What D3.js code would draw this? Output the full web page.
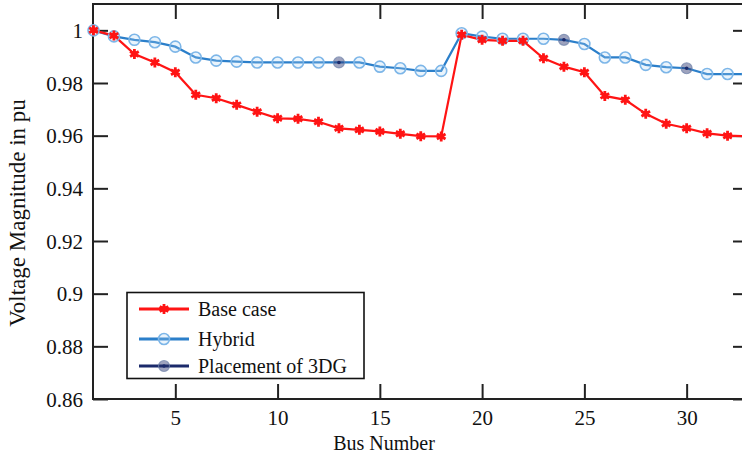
<!DOCTYPE html>
<html><head><meta charset="utf-8">
<script src="https://cdn.jsdelivr.net/npm/d3@7"></script>
<style>
html,body{margin:0;padding:0;background:#fff;}
svg{display:block;}
text{font-family:"Liberation Serif","Times New Roman",serif;fill:#111;}
</style></head>
<body>
<svg id="chart" width="742" height="458"></svg>
<script>
const buses = d3.range(1, 34);
const baseCase = [1.0000,0.9980,0.9910,0.9878,0.9841,0.9755,0.9742,0.9717,0.9691,0.9666,0.9664,0.9653,0.9628,0.9622,0.9616,0.9607,0.9598,0.9597,0.9983,0.9964,0.9960,0.9960,0.9894,0.9862,0.9841,0.9751,0.9736,0.9683,0.9645,0.9628,0.9609,0.9600,0.9597];
const hybrid = [1.0000,0.9977,0.9964,0.9955,0.9938,0.9897,0.9885,0.9881,0.9878,0.9878,0.9878,0.9878,0.9878,0.9878,0.9862,0.9856,0.9846,0.9846,0.9989,0.9976,0.9968,0.9968,0.9968,0.9964,0.9948,0.9897,0.9897,0.9869,0.9860,0.9856,0.9834,0.9834,0.9834];
const dgBuses = [13, 24, 30];
const xTicks = [5, 10, 15, 20, 25, 30];
const yTicks = [0.86, 0.88, 0.9, 0.92, 0.94, 0.96, 0.98, 1];
const legendLabels = ["Base case", "Hybrid", "Placement of 3DG"];

const svg = d3.select("#chart");
const pL = 93, pR = 748, pT = 4, pB = 399;
const x = d3.scaleLinear().domain([1, 33]).range([pL + 0.5, pR]);
const y = d3.scaleLinear().domain([0.86, 1.01]).range([pB, pT]);

const RED = "#ff1414", BLUE = "#2b7fca", NAVY = "#1b2a6b";

// axes
const fmt = d => String(+d.toFixed(2));
const gB = svg.append("g").attr("transform", `translate(0,${pB})`)
  .call(d3.axisBottom(x).tickValues(xTicks).tickSize(-15).tickPadding(11).tickFormat(fmt));
const gT = svg.append("g").attr("transform", `translate(0,${pT})`)
  .call(d3.axisTop(x).tickValues(xTicks).tickSize(-15).tickFormat(""));
const gL = svg.append("g").attr("transform", `translate(${pL},0)`)
  .call(d3.axisLeft(y).tickValues(yTicks).tickSize(-15).tickPadding(10).tickFormat(fmt));
const gR = svg.append("g").attr("transform", `translate(${pR},0)`)
  .call(d3.axisRight(y).tickValues(yTicks).tickSize(-15).tickFormat(""));
[gB, gT, gL, gR].forEach(g => {
  g.select(".domain").remove();
  g.selectAll(".tick line").attr("stroke", "#222").attr("stroke-width", 2);
  g.selectAll(".tick text").attr("font-size", 21).attr("font-family", "Liberation Serif").attr("fill", "#111");
});
gL.selectAll(".tick text").attr("dy", "0.34em");
svg.append("rect").attr("x", pL).attr("y", pT).attr("width", pR - pL).attr("height", pB - pT)
  .attr("fill", "none").attr("stroke", "#222").attr("stroke-width", 2);

// lines
const line = d3.line().x((d, i) => x(buses[i])).y(d => y(d));
svg.append("path").datum(hybrid).attr("d", line).attr("fill", "none").attr("stroke", BLUE).attr("stroke-width", 2.2);
svg.append("path").datum(baseCase).attr("d", line).attr("fill", "none").attr("stroke", RED).attr("stroke-width", 2.2);

// markers
function circleMarker(g, cx, cy) {
  g.append("circle").attr("cx", cx).attr("cy", cy).attr("r", 5.5)
    .attr("fill", "rgba(170,210,245,0.25)").attr("stroke", "#7db6e8").attr("stroke-width", 1.6);
}
function dgMarker(g, cx, cy) {
  g.append("circle").attr("cx", cx).attr("cy", cy).attr("r", 5.5)
    .attr("fill", "rgba(40,50,110,0.45)").attr("stroke", "rgba(110,130,170,0.7)").attr("stroke-width", 1.2);
  g.append("circle").attr("cx", cx).attr("cy", cy).attr("r", 1.8).attr("fill", NAVY);
}
const star = d3.symbol().type(d3.symbolAsterisk).size(70);
function starMarker(g, cx, cy) {
  g.append("path").attr("d", star()).attr("transform", `translate(${cx},${cy})`)
    .attr("fill", "none").attr("stroke", RED).attr("stroke-width", 2.8);
  g.append("circle").attr("cx", cx).attr("cy", cy).attr("r", 3).attr("fill", RED);
}
const gm = svg.append("g");
hybrid.forEach((v, i) => {
  if (dgBuses.includes(buses[i])) dgMarker(gm, x(buses[i]), y(v));
  else circleMarker(gm, x(buses[i]), y(v));
});
const gs = svg.append("g");
baseCase.forEach((v, i) => starMarker(gs, x(buses[i]), y(v)));

// legend
const lg = svg.append("g");
lg.append("rect").attr("x", 127).attr("y", 292.5).attr("width", 237).attr("height", 86)
  .attr("fill", "#fff").attr("stroke", "#111").attr("stroke-width", 1.6);
const rows = [309, 339, 366];
const lcol = [RED, BLUE, NAVY];
legendLabels.forEach((t, i) => {
  const yy = rows[i];
  lg.append("line").attr("x1", 139).attr("x2", 189).attr("y1", yy).attr("y2", yy)
    .attr("stroke", lcol[i]).attr("stroke-width", 3);
  if (i === 0) starMarker(lg, 164, yy);
  if (i === 1) circleMarker(lg, 164, yy);
  if (i === 2) dgMarker(lg, 164, yy);
  lg.append("text").attr("x", 198).attr("y", yy).attr("dy", "0.33em").attr("font-size", 20).text(t);
});

// axis titles
svg.append("text").attr("x", 384).attr("y", 450).attr("text-anchor", "middle").attr("font-size", 20).text("Bus Number");
svg.append("text").attr("transform", "translate(25,213) rotate(-90)").attr("text-anchor", "middle")
  .attr("font-size", 23).text("Voltage Magnitude in pu");
</script>
</body></html>
